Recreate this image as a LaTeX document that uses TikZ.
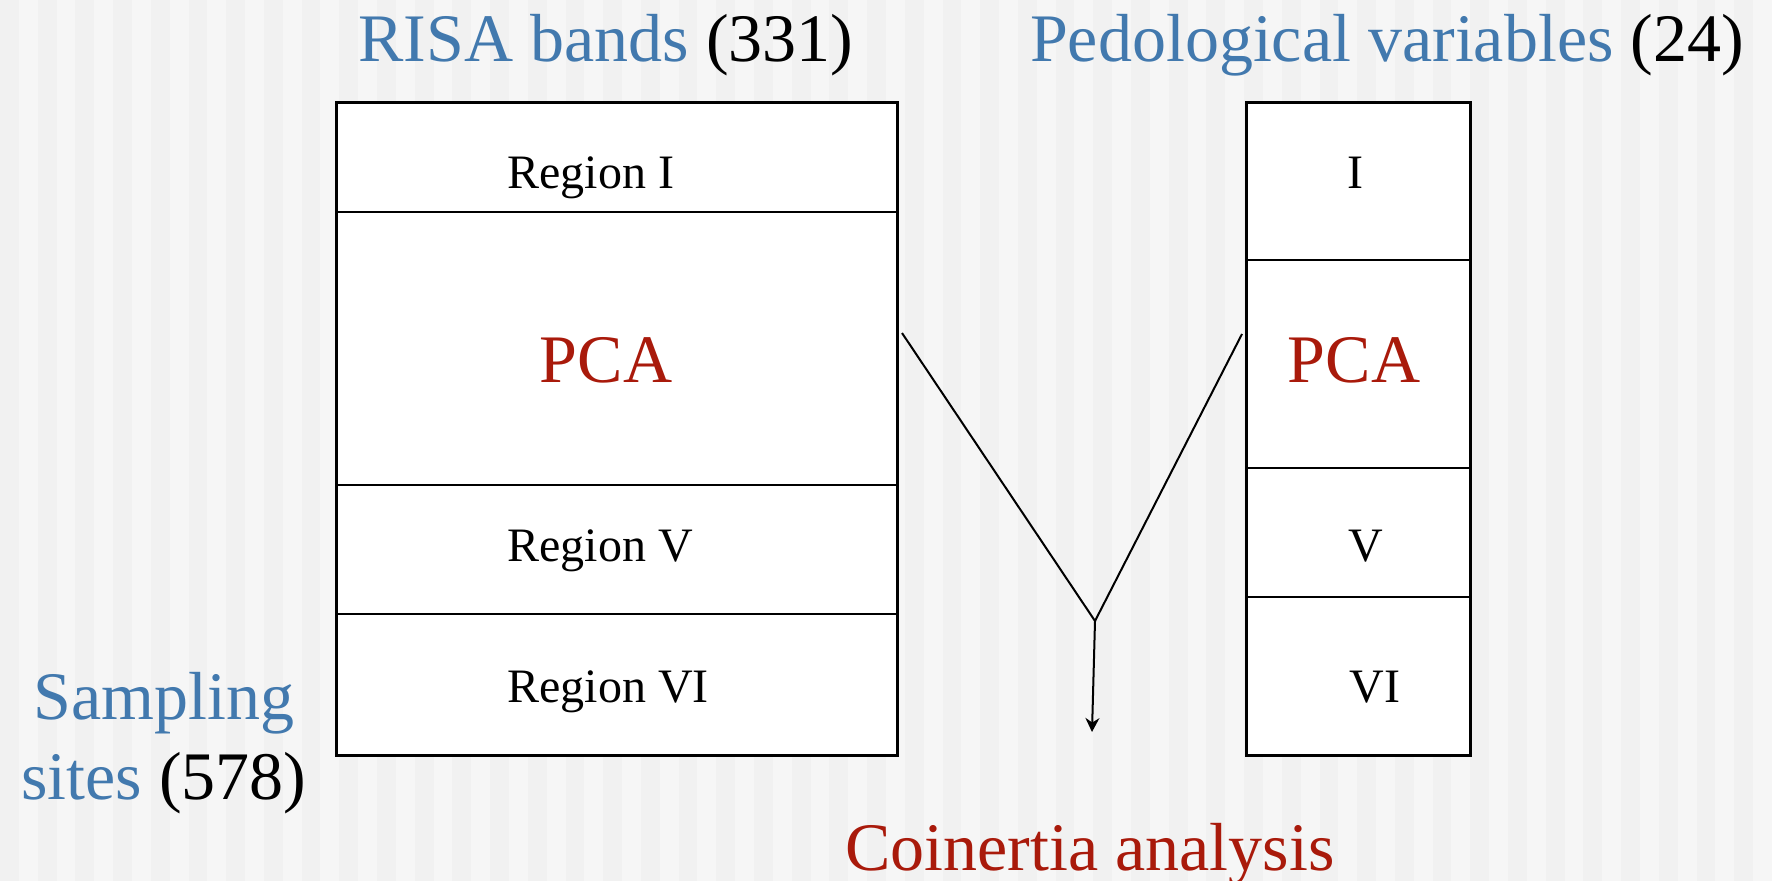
\documentclass[tikz,border=0pt]{standalone}
\usepackage{fontspec}
\setmainfont{Liberation Serif}
\usetikzlibrary{arrows.meta, positioning}
\definecolor{SiteBlue}{HTML}{4279AE}
\definecolor{PcaRed}{HTML}{A91A0B}
\definecolor{StripeDark}{HTML}{F1F1F1}
\definecolor{StripeLight}{HTML}{F6F6F6}

\begin{document}
\begin{tikzpicture}[x=0.5pt, y=-0.5pt,
    cell/.style={draw, fill=white, line width=1pt, inner sep=0pt, outer sep=0pt},
    frame/.style={line width=1.5pt},
    bigtext/.style={font=\fontsize{34}{40}\selectfont, inner sep=0pt},
    regtext/.style={font=\fontsize{24}{28}\selectfont, inner sep=0pt},
    link/.style={line width=1pt}]

% striped background
\fill[StripeDark] (0,0) rectangle (1772,881);
\foreach \i in {0,...,46}
    \fill[StripeLight] ({\i*37.7+18.85},0) rectangle ++(18.85,881);
\useasboundingbox (0,0) rectangle (1772,881);

% RISA bands table
\node[cell, minimum width=280.5pt, minimum height=54.75pt, anchor=north west] (rI) at (336,103) {};
\node[cell, minimum width=280.5pt, minimum height=136.25pt, below=0pt of rI] (rPCA) {};
\node[cell, minimum width=280.5pt, minimum height=64.5pt, below=0pt of rPCA] (rV) {};
\node[cell, minimum width=280.5pt, minimum height=70.5pt, below=0pt of rV] (rVI) {};
\draw[frame] (rI.north west) rectangle (rVI.south east);

% pedological table
\node[cell, minimum width=112pt, minimum height=78.5pt, anchor=north west] (pI) at (1246,103) {};
\node[cell, minimum width=112pt, minimum height=104pt, below=0pt of pI] (pPCA) {};
\node[cell, minimum width=112pt, minimum height=64.5pt, below=0pt of pPCA] (pV) {};
\node[cell, minimum width=112pt, minimum height=79pt, below=0pt of pV] (pVI) {};
\draw[frame] (pI.north west) rectangle (pVI.south east);

% cell labels
\node[regtext, anchor=base west] (lblRI) at (507,189) {Region I};
\node[bigtext, text=PcaRed, anchor=base] (lblRPCA) at (606,383) {PCA};
\node[regtext, anchor=base west] (lblRV) at (507,562) {Region V};
\node[regtext, anchor=base west] (lblRVI) at (507,702) {Region VI};
\node[regtext, anchor=base] (lblPI) at (1355,189) {I};
\node[bigtext, text=PcaRed, anchor=base] (lblPPCA) at (1354,383) {PCA};
\node[regtext, anchor=base] (lblPV) at (1366,562) {V};
\node[regtext, anchor=base] (lblPVI) at (1375,702) {VI};

% titles
\node[bigtext, anchor=base] (risa) at (606,62) {\textcolor{SiteBlue}{RISA bands} (331)};
\node[bigtext, anchor=base] (pedo) at (1387,62) {\textcolor{SiteBlue}{Pedological variables} (24)};
\node[bigtext, anchor=base, align=center] (sites) at (164,799) {\textcolor{SiteBlue}{Sampling}\\\textcolor{SiteBlue}{sites} (578)};
\node[bigtext, text=PcaRed, anchor=base] (coin) at (1090,870) {Coinertia analysis};

% Connectors
\coordinate (join) at (1095,621);
\coordinate (arrowend) at (1092,732);
\draw[link] ([shift={(5,-15.75)}]rPCA.east) -- (join);
\draw[link] ([shift={(-4,-30)}]pPCA.west) -- (join);
\draw[link, -{Stealth[length=7pt, width=7pt]}] (join) -- (arrowend);
\end{tikzpicture}
\end{document}
